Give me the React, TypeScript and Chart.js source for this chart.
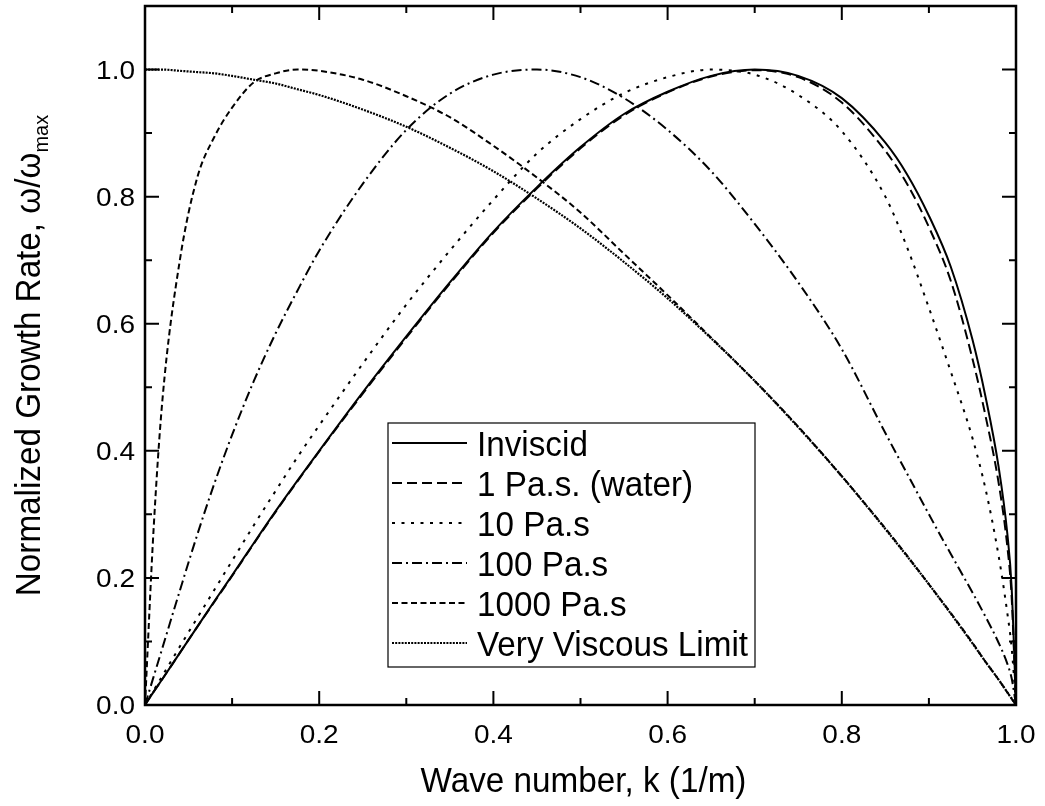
import React, { useEffect, useRef } from "react";
import { Chart, registerables } from "chart.js";

Chart.register(...registerables);

// ---- data ----
const kValues = [0, 0.01, 0.02, 0.04, 0.06, 0.08, 0.1, 0.125, 0.15, 0.175, 0.2, 0.25, 0.3, 0.35, 0.4, 0.45, 0.5, 0.55, 0.6, 0.65, 0.7, 0.75, 0.8, 0.85, 0.875, 0.9, 0.925, 0.95, 0.965, 0.98, 0.99, 0.995, 1.0];

const inviscid = [0, 0.021, 0.041, 0.082, 0.123, 0.164, 0.204, 0.255, 0.305, 0.353, 0.4, 0.492, 0.58, 0.665, 0.745, 0.815, 0.878, 0.93, 0.965, 0.99, 1.0, 0.99, 0.955, 0.885, 0.835, 0.77, 0.69, 0.575, 0.485, 0.375, 0.27, 0.185, 0];
const water = [0, 0.021, 0.041, 0.082, 0.123, 0.163, 0.203, 0.254, 0.304, 0.352, 0.399, 0.49, 0.578, 0.663, 0.743, 0.813, 0.876, 0.928, 0.964, 0.989, 0.999, 0.988, 0.948, 0.872, 0.82, 0.752, 0.668, 0.545, 0.455, 0.35, 0.25, 0.17, 0];
const visc10 = [0, 0.023, 0.046, 0.092, 0.137, 0.182, 0.227, 0.283, 0.337, 0.39, 0.44, 0.537, 0.63, 0.715, 0.795, 0.868, 0.922, 0.963, 0.988, 1.0, 0.992, 0.96, 0.903, 0.8, 0.72, 0.625, 0.525, 0.42, 0.34, 0.235, 0.145, 0.09, 0];
const visc100 = [0, 0.045, 0.09, 0.18, 0.268, 0.35, 0.425, 0.51, 0.585, 0.652, 0.715, 0.82, 0.905, 0.962, 0.992, 1.0, 0.988, 0.955, 0.905, 0.84, 0.757, 0.665, 0.56, 0.428, 0.364, 0.3, 0.238, 0.177, 0.139, 0.098, 0.065, 0.042, 0];
const visc1000 = [0, 0.28, 0.48, 0.7, 0.83, 0.895, 0.94, 0.98, 0.994, 1.0, 0.998, 0.984, 0.958, 0.925, 0.88, 0.83, 0.775, 0.71, 0.645, 0.578, 0.51, 0.438, 0.36, 0.278, 0.235, 0.19, 0.145, 0.098, 0.068, 0.04, 0.02, 0.01, 0];
const veryViscous = [1.0, 1.0, 1.0, 0.998, 0.996, 0.994, 0.99, 0.984, 0.978, 0.969, 0.96, 0.937, 0.91, 0.877, 0.84, 0.797, 0.75, 0.697, 0.64, 0.577, 0.51, 0.437, 0.36, 0.277, 0.234, 0.19, 0.144, 0.097, 0.068, 0.04, 0.02, 0.01, 0];

const seriesLabels = ["Inviscid", "1 Pa.s. (water)", "10 Pa.s", "100 Pa.s", "1000 Pa.s", "Very Viscous Limit"];
const seriesValues = [inviscid, water, visc10, visc100, visc1000, veryViscous];

const xTickValues = [0, 0.2, 0.4, 0.6, 0.8, 1.0];
const yTickValues = [0, 0.2, 0.4, 0.6, 0.8, 1.0];
const xTickLabels = ["0.0", "0.2", "0.4", "0.6", "0.8", "1.0"];
const yTickLabels = ["0.0", "0.2", "0.4", "0.6", "0.8", "1.0"];
const xMinorValues = [0.1, 0.3, 0.5, 0.7, 0.9];
const yMinorValues = [0.1, 0.3, 0.5, 0.7, 0.9];

const xTitle = "Wave number, k (1/m)";
const yTitleMain = "Normalized Growth Rate, \u03c9/\u03c9";
const yTitleSub = "max";

// ---- styles ----
const dashes: number[][] = [[], [10, 5], [3, 6.5], [10, 4, 2, 4], [6, 3.5], [2, 1.2]];
const widths = [2, 2, 2, 2, 2, 2.2];
const FONT = "'Liberation Sans', Arial, sans-serif";

function drawScaled(ctx: CanvasRenderingContext2D, text: string, x: number, y: number, sx: number) {
  ctx.save();
  ctx.translate(x, y);
  ctx.scale(sx, 1);
  ctx.fillText(text, 0, 0);
  ctx.restore();
}

const decorPlugin = {
  id: "decor",
  afterDraw(chart: any) {
    const ctx: CanvasRenderingContext2D = chart.ctx;
    const { left, right, top, bottom } = chart.chartArea;
    const xs = chart.scales.x;
    const ys = chart.scales.y;
    ctx.save();
    ctx.strokeStyle = "#000";
    ctx.fillStyle = "#000";
    ctx.setLineDash([]);
    // ticks (inward, mirrored)
    ctx.lineWidth = 2;
    const major = 14, minor = 7;
    const vTick = (px: number, len: number) => {
      ctx.beginPath();
      ctx.moveTo(px, bottom); ctx.lineTo(px, bottom - len);
      ctx.moveTo(px, top); ctx.lineTo(px, top + len);
      ctx.stroke();
    };
    const hTick = (py: number, len: number) => {
      ctx.beginPath();
      ctx.moveTo(left, py); ctx.lineTo(left + len, py);
      ctx.moveTo(right, py); ctx.lineTo(right - len, py);
      ctx.stroke();
    };
    xTickValues.forEach((v) => vTick(xs.getPixelForValue(v), major));
    xMinorValues.forEach((v) => vTick(xs.getPixelForValue(v), minor));
    yTickValues.forEach((v) => hTick(ys.getPixelForValue(v), major));
    yMinorValues.forEach((v) => hTick(ys.getPixelForValue(v), minor));
    // frame
    ctx.lineWidth = 2.5;
    ctx.strokeRect(left, top, right - left, bottom - top);

    // tick labels
    ctx.font = `25px ${FONT}`;
    ctx.textBaseline = "alphabetic";
    ctx.textAlign = "center";
    xTickValues.forEach((v, i) => drawScaled(ctx, xTickLabels[i], xs.getPixelForValue(v), bottom + 38, 1.12));
    ctx.textAlign = "right";
    yTickValues.forEach((v, i) => drawScaled(ctx, yTickLabels[i], left - 10, ys.getPixelForValue(v) + 9, 1.12));

    // legend
    const bx = 388, by = 423, bw = 367, bh = 244;
    ctx.fillStyle = "#fff";
    ctx.fillRect(bx, by, bw, bh);
    ctx.lineWidth = 1.2;
    ctx.strokeStyle = "#000";
    ctx.strokeRect(bx, by, bw, bh);
    ctx.fillStyle = "#000";
    ctx.font = `35px ${FONT}`;
    ctx.textAlign = "left";
    seriesLabels.forEach((lab, i) => {
      const ry = 443 + i * 40;
      ctx.save();
      ctx.lineWidth = widths[i];
      ctx.setLineDash(dashes[i]);
      ctx.beginPath();
      ctx.moveTo(392, ry);
      ctx.lineTo(467, ry);
      ctx.stroke();
      ctx.restore();
      drawScaled(ctx, lab, 477, ry + 12.5, 0.95);
    });

    // x title
    ctx.textAlign = "center";
    ctx.font = `35px ${FONT}`;
    drawScaled(ctx, xTitle, (left + right) / 2 + 3, 792, 0.95);

    // y title with subscript
    ctx.save();
    ctx.translate(40, (top + bottom) / 2);
    ctx.rotate(-Math.PI / 2);
    ctx.scale(0.95, 1);
    ctx.textAlign = "left";
    ctx.font = `35px ${FONT}`;
    const w1 = ctx.measureText(yTitleMain).width;
    ctx.font = `21px ${FONT}`;
    const w2 = ctx.measureText(yTitleSub).width;
    const start = -(w1 + w2) / 2;
    ctx.font = `35px ${FONT}`;
    ctx.fillText(yTitleMain, start, 0);
    ctx.font = `21px ${FONT}`;
    ctx.fillText(yTitleSub, start + w1, 8);
    ctx.restore();

    ctx.restore();
  },
};

export default function App() {
  const ref = useRef<HTMLCanvasElement>(null);
  useEffect(() => {
    const canvas = ref.current;
    if (!canvas) return;
    const datasets = seriesLabels.map((lab, i) => ({
      label: lab,
      data: kValues.map((k, j) => ({ x: k, y: seriesValues[i][j] })),
      borderColor: "#000",
      backgroundColor: "#000",
      borderWidth: widths[i],
      borderDash: dashes[i],
      pointRadius: 0,
      fill: false,
      cubicInterpolationMode: "monotone" as const,
    }));
    const chart = new Chart(canvas, {
      type: "line",
      data: { datasets },
      options: {
        animation: false,
        responsive: false,
        devicePixelRatio: 1,
        layout: { padding: { top: 6, right: 29, left: 0, bottom: 0 } },
        plugins: { legend: { display: false }, tooltip: { enabled: false }, title: { display: false } },
        scales: {
          x: {
            type: "linear",
            min: 0,
            max: 1,
            grid: { display: false, drawTicks: false },
            border: { display: false },
            ticks: { display: false },
            afterBuildTicks: (s: any) => {
              s.ticks = xTickValues.map((v) => ({ value: v }));
            },
            afterFit: (s: any) => {
              s.height = 101;
            },
          },
          y: {
            type: "linear",
            min: 0,
            max: 1.1,
            grid: { display: false, drawTicks: false },
            border: { display: false },
            ticks: { display: false },
            afterBuildTicks: (s: any) => {
              s.ticks = yTickValues.map((v) => ({ value: v }));
            },
            afterFit: (s: any) => {
              s.width = 145;
            },
          },
        },
      } as any,
      plugins: [decorPlugin],
    });
    return () => chart.destroy();
  }, []);
  return (
    <div style={{ position: "absolute", left: 0, top: 0, width: 1045, height: 806, background: "#fff" }}>
      <canvas ref={ref} width={1045} height={806} style={{ display: "block", width: 1045, height: 806 }} />
    </div>
  );
}
